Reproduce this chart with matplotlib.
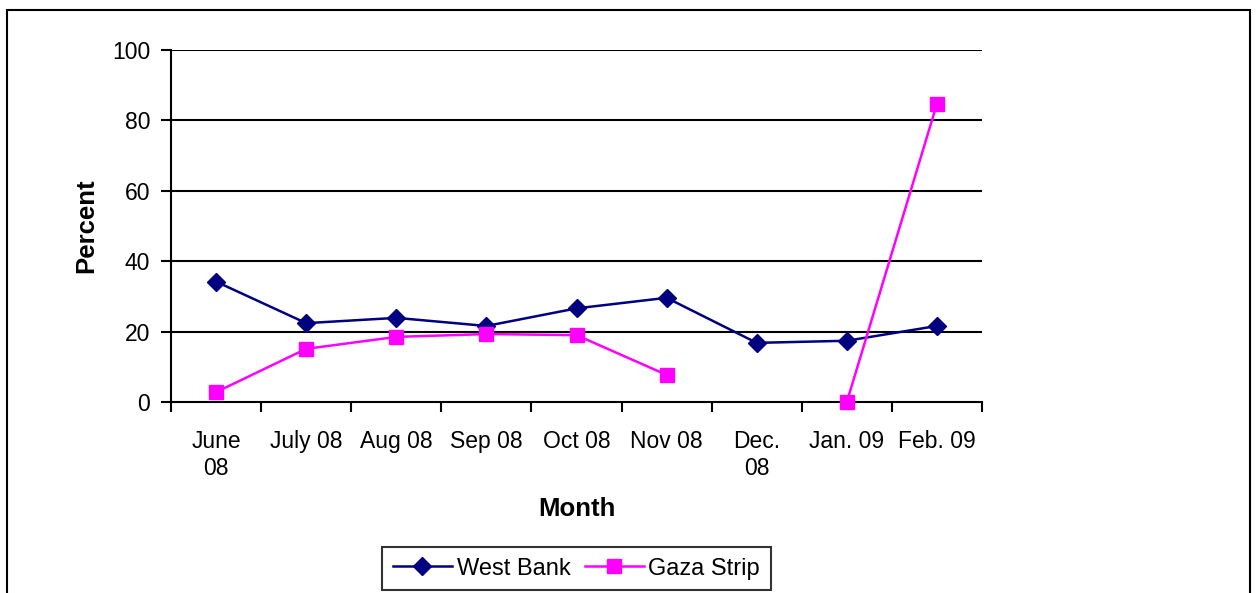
import matplotlib
matplotlib.use("Agg")
import matplotlib.pyplot as plt
import matplotlib.patches as mpatches
import numpy as np

plt.rcParams['font.family'] = ['Liberation Sans', 'DejaVu Sans']

months = ["June\n08", "July 08", "Aug 08", "Sep 08", "Oct 08", "Nov 08",
          "Dec.\n08", "Jan. 09", "Feb. 09"]
west_bank = [34.2, 22.4, 23.9, 21.6, 26.6, 29.6, 16.8, 17.4, 21.6]
gaza_strip = [2.8, 15.1, 18.5, 19.3, 19.0, 7.7, np.nan, 0.0, 84.7]
y_ticks = [0, 20, 40, 60, 80, 100]

W, H = 1258, 593
fig = plt.figure(figsize=(W / 100, H / 100), dpi=100)
ax = fig.add_axes([171 / W, 1 - 402 / H, 811 / W, 352 / H])

x = np.arange(len(months))
ax.plot(x, west_bank, color="#000080", lw=1.8, marker="D", ms=9,
        label="West Bank", clip_on=False, zorder=3)
ax.plot(x, gaza_strip, color="#FF00FF", lw=1.8, marker="s", ms=10.5,
        label="Gaza Strip", clip_on=False, zorder=3)

ax.set_xlim(-0.5, len(months) - 0.5)
ax.set_ylim(0, 100)
ax.set_yticks(y_ticks)
for v in y_ticks[1:]:
    ax.axhline(v, color="black", lw=1.5, zorder=1)

ax.set_xticks(x)
ax.set_xticklabels(months, fontsize=16.5, linespacing=1.25)
ax.set_xticks(np.arange(-0.5, len(months)), minor=True)
ax.tick_params(axis="x", which="major", length=0, pad=20)
ax.tick_params(axis="x", which="minor", length=7, width=1.5, direction="out")
ax.tick_params(axis="y", length=7, width=1.5, direction="out", labelsize=16.5, pad=8)
for lbl in ax.get_xticklabels():
    lbl.set_verticalalignment("top")

for s in ["top", "right"]:
    ax.spines[s].set_visible(False)
for s in ["left", "bottom"]:
    ax.spines[s].set_linewidth(1.5)

ax.set_ylabel("Percent", fontsize=18.5, fontweight="bold", labelpad=10)
ax.set_xlabel("Month", fontsize=18.5, fontweight="bold", labelpad=12)

leg = ax.legend(loc="upper center", bbox_to_anchor=(0.5, (402 - 547) / 352),
                ncol=2, fontsize=17, frameon=True, fancybox=False,
                edgecolor="black", handlelength=2.5, columnspacing=0.6,
                handletextpad=0.2, borderpad=0.45, borderaxespad=0)
leg.get_frame().set_linewidth(1.5)

border = mpatches.Rectangle((7 / W, -0.05), (1250 - 7) / W, 1 - 10 / H + 0.05,
                            transform=fig.transFigure, fill=False,
                            edgecolor="black", lw=1.5, clip_on=False)
fig.patches.append(border)

fig.savefig("out.png", dpi=100)
